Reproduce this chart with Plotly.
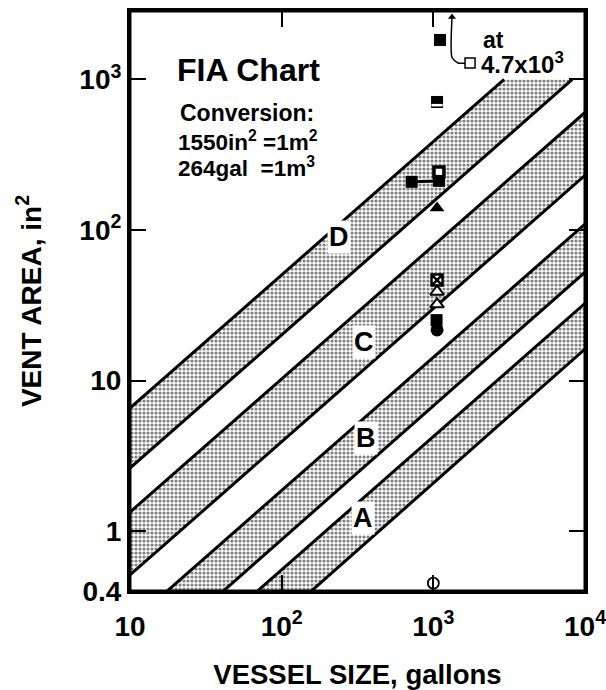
import numpy as np
import plotly.graph_objects as go

FONT = "Liberation Sans, Arial, Helvetica, sans-serif"

# ---- axis ticks ----
vessel_ticks = [10, 100, 1000, 10000]
vessel_tick_text = ["10", "10<sup>2</sup>", "10<sup>3</sup>", "10<sup>4</sup>"]
area_ticks = [0.4, 1, 10, 100, 1000]
area_tick_text = ["0.4", "1", "10", "10<sup>2</sup>", "10<sup>3</sup>"]
x_range = [10, 10000]
y_range = [0.4, 2850]

# ---- band boundary lines: vent area (in^2) at 10 gal and at 10^4 gal ----
band_x_ends = [10, 10000]
band_A_lower = [0.0344, 16.2]
band_A_upper = [0.0721, 32.6]
band_B_lower = [0.1135, 52.5]
band_B_upper = [0.2427, 109.6]
band_C_lower = [0.511, 230.7]
band_C_upper = [1.337, 604]
band_D_lower = [2.62, 1186]
band_D_upper = [6.56, 2965]
band_cap = 1000  # bands stop at 10^3 in^2

band_names = ["A", "B", "C", "D"]
band_label_x = [344, 360, 349, 239]
band_label_y = [1.22, 4.15, 18.0, 89.8]

# ---- test data points (gallons, in^2) ----
filled_sq_x = [1107, 720, 1050]
filled_sq_y = [1830, 209, 25.2]
banded_sq_x = [1058]
banded_sq_y = [709]
banded_bar_y = [675]
pair_x = [720, 1089]
pair_y = [209, 212]
notched_sq_x = [1089]
notched_sq_y = [212]
notched_top_y = [243]
filled_tri_x = [1058]
filled_tri_y = [140]
crossed_sq_x = [1058]
crossed_sq_y = [46.5]
open_tri_x = [1058, 1058]
open_tri_y = [38.9, 32.1]
filled_circ_x = [1058]
filled_circ_y = [21.7]
open_circ_x = [1000]
open_circ_y = [0.451]
offscale_sq_x = [1746]
offscale_sq_y = [1288]
offscale_arrow_x = [1650, 1455, 1328, 1328]
offscale_arrow_y = [1288, 1288, 1400, 2600]


def clip(xs, ys, cap):
    lx = np.log10(xs)
    ly = np.log10(ys)
    lc = np.log10(cap)
    if ly[1] <= lc:
        return list(xs), list(ys)
    xh = lx[0] + (lc - ly[0]) * (lx[1] - lx[0]) / (ly[1] - ly[0])
    return [xs[0], 10 ** xh], [ys[0], cap]


fig = go.Figure()

bands = [
    (band_A_lower, band_A_upper),
    (band_B_lower, band_B_upper),
    (band_C_lower, band_C_upper),
    (band_D_lower, band_D_upper),
]

for lower, upper in bands:
    ux, uy = clip(band_x_ends, upper, band_cap)
    lx_, ly_ = clip(band_x_ends, lower, band_cap)
    px = ux + lx_[::-1]
    py = uy + ly_[::-1]
    fig.add_trace(go.Scatter(
        x=px, y=py, mode="lines", fill="toself",
        fillcolor="white",
        fillpattern=dict(shape=".", fgcolor="black", bgcolor="white",
                         size=4, solidity=0.5),
        line=dict(width=0, color="rgba(0,0,0,0)"),
        hoverinfo="skip", showlegend=False))

for lower, upper in bands:
    for ln in (lower, upper):
        cx, cy = clip(band_x_ends, ln, band_cap)
        fig.add_trace(go.Scatter(x=cx, y=cy, mode="lines",
                                 line=dict(color="black", width=3),
                                 hoverinfo="skip", showlegend=False))

# connecting line
fig.add_trace(go.Scatter(x=pair_x, y=pair_y, mode="lines",
                         line=dict(color="black", width=3), showlegend=False))

# arrow for off-scale point
fig.add_trace(go.Scatter(x=offscale_arrow_x, y=offscale_arrow_y, mode="lines",
                         line=dict(color="black", width=1.5, shape="spline",
                                   smoothing=0.6), showlegend=False))
fig.add_trace(go.Scatter(x=offscale_arrow_x[-1:], y=offscale_arrow_y[-1:],
                         mode="markers",
                         marker=dict(symbol="triangle-up", size=7, color="black"),
                         showlegend=False))
fig.add_trace(go.Scatter(x=offscale_sq_x, y=offscale_sq_y, mode="markers",
                         marker=dict(symbol="square", size=10, color="white",
                                     line=dict(color="black", width=1.5)),
                         showlegend=False))


def mk(x, y, symbol, size, color="black", lw=0, lc="black"):
    fig.add_trace(go.Scatter(x=x, y=y, mode="markers",
                             marker=dict(symbol=symbol, size=size, color=color,
                                         line=dict(color=lc, width=lw)),
                             showlegend=False, hoverinfo="skip"))


mk(filled_sq_x, filled_sq_y, "square", 12)
mk(banded_sq_x, banded_sq_y, "square", 12)
mk(banded_sq_x, banded_bar_y, "line-ew", 8, lw=2.5, lc="white")
mk(notched_sq_x, notched_top_y, "square", 10, color="white", lw=3.5)
mk(notched_sq_x, notched_sq_y, "square", 12)
mk(filled_tri_x, filled_tri_y, "triangle-up", 13)
mk(crossed_sq_x, crossed_sq_y, "square-x", 11, color="white", lw=2.5)
mk(open_tri_x, open_tri_y, "triangle-up", 12, color="white", lw=2)
mk(filled_circ_x, filled_circ_y, "circle", 13)
mk(open_circ_x, open_circ_y, "circle", 11, color="white", lw=1.8)

annotations = []
for name, bx, by in zip(band_names, band_label_x, band_label_y):
    annotations.append(dict(
        x=np.log10(bx), y=np.log10(by), xref="x", yref="y", text=name,
        showarrow=False, bgcolor="white", borderpad=1,
        font=dict(family=FONT, size=27, color="black", weight="bold")))

text_items = [
    ("FIA Chart", 20.2, 1155, 32),
    ("Conversion:", 20.9, 600, 23),
    ("1550in<sup>2</sup> =1m<sup>2</sup>", 20.3, 392, 22.5),
    ("264gal  =1m<sup>3</sup>", 20.3, 262, 22.5),
    ("at", 2094, 1828, 23),
    ("4.7x10<sup>3</sup>", 2040, 1288, 24),
]
for t, tx, ty, fs in text_items:
    annotations.append(dict(
        x=np.log10(tx), y=np.log10(ty), xref="x", yref="y", text=t,
        showarrow=False, xanchor="left", yanchor="middle", borderpad=0,
        font=dict(family=FONT, size=fs, color="black", weight="bold")))

axis_common = dict(
    type="log", showline=True, linewidth=3, linecolor="black",
    mirror="allticks", ticks="inside", ticklen=16, tickwidth=2,
    tickcolor="black", showgrid=False, zeroline=False, automargin=False,
    ticklabeloverflow="allow",
    tickfont=dict(family=FONT, size=28, color="black", weight="bold"),
)

fig.update_layout(
    width=606, height=690, autosize=False,
    margin=dict(l=130, r=21, t=11, b=99),
    paper_bgcolor="white", plot_bgcolor="white",
    showlegend=False,
    annotations=annotations,
    shapes=[dict(type="rect", xref="paper", yref="paper", x0=0, x1=1,
                 y0=0, y1=1, line=dict(color="black", width=3),
                 layer="above")],
    xaxis=dict(**axis_common, range=list(np.log10(x_range)),
               tickvals=vessel_ticks, ticktext=vessel_tick_text,
               ticklabelstandoff=8,
               title=dict(text="VESSEL SIZE, gallons", standoff=30,
                          font=dict(family=FONT, size=27.5, color="black",
                                    weight="bold"))),
    yaxis=dict(**axis_common, range=list(np.log10(y_range)),
               tickvals=area_ticks, ticktext=area_tick_text,
               title=dict(text="VENT AREA, in<sup>2</sup>", standoff=30,
                          font=dict(family=FONT, size=28, color="black",
                                    weight="bold"))),
)

fig.write_html("out.html", config={"displayModeBar": False},
               post_script="document.body.style.margin='0px';")
